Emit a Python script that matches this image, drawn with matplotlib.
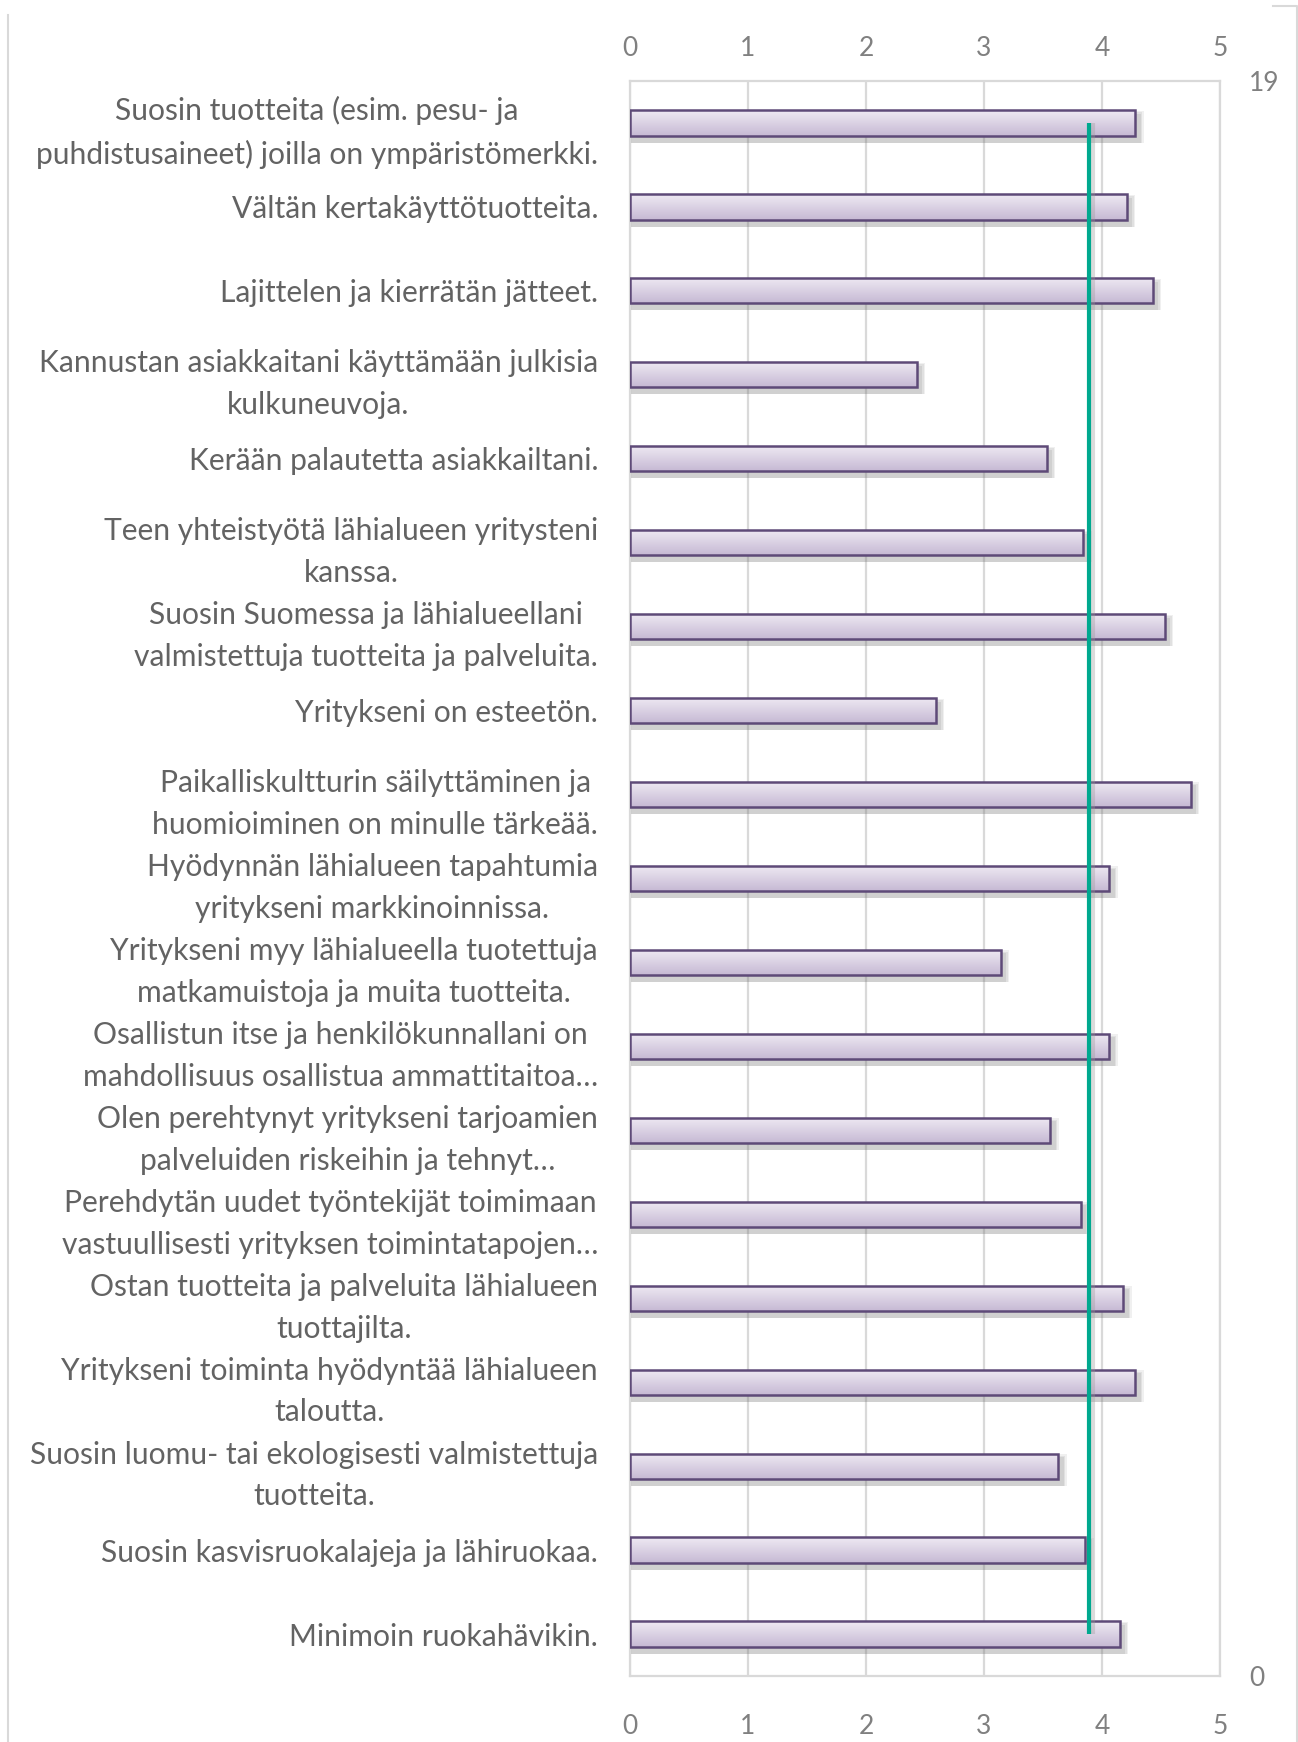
import numpy as np
import matplotlib
matplotlib.use("Agg")
import matplotlib.pyplot as plt
from matplotlib.patches import Rectangle
from matplotlib.lines import Line2D

# ---------- Data ----------
statements = [
    "Suosin tuotteita (esim. pesu- ja\npuhdistusaineet) joilla on ympäristömerkki.",
    "Vältän kertakäyttötuotteita.",
    "Lajittelen ja kierrätän jätteet.",
    "Kannustan asiakkaitani käyttämään julkisia\nkulkuneuvoja.",
    "Kerään palautetta asiakkailtani.",
    "Teen yhteistyötä lähialueen yritysteni\nkanssa.",
    "Suosin Suomessa ja lähialueellani\nvalmistettuja tuotteita ja palveluita.",
    "Yritykseni on esteetön.",
    "Paikalliskultturin säilyttäminen ja\nhuomioiminen on minulle tärkeää.",
    "Hyödynnän lähialueen tapahtumia\nyritykseni markkinoinnissa.",
    "Yritykseni myy lähialueella tuotettuja\nmatkamuistoja ja muita tuotteita.",
    "Osallistun itse ja henkilökunnallani on\nmahdollisuus osallistua ammattitaitoa…",
    "Olen perehtynyt yritykseni tarjoamien\npalveluiden riskeihin ja tehnyt…",
    "Perehdytän uudet työntekijät toimimaan\nvastuullisesti yrityksen toimintatapojen…",
    "Ostan tuotteita ja palveluita lähialueen\ntuottajilta.",
    "Yritykseni toiminta hyödyntää lähialueen\ntaloutta.",
    "Suosin luomu- tai ekologisesti valmistettuja\ntuotteita.",
    "Suosin kasvisruokalajeja ja lähiruokaa.",
    "Minimoin ruokahävikin.",
]
mean_scores = [4.28, 4.21, 4.43, 2.43, 3.53, 3.84, 4.53, 2.59, 4.75, 4.06,
               3.14, 4.06, 3.56, 3.82, 4.18, 4.28, 3.63, 3.86, 4.15]

# overall average drawn as a vertical line on the secondary axis
avg_x = [3.89, 3.89]
avg_y = [0.5, 18.5]

x_ticks = [0, 1, 2, 3, 4, 5]
sec_ticks = [0, 19]

# ---------- Style ----------
plt.rcParams["font.family"] = ["Lato", "DejaVu Sans"]
TEXT_GREY = "#636363"
TICK_GREY = "#808080"
GRID_GREY = "#d9d9d9"
BAR_EDGE = "#5e4a78"
BAR_TOP = np.array([0xef, 0xea, 0xf3]) / 255
BAR_BOT = np.array([0xc6, 0xb9, 0xd4]) / 255
AVG_GREEN = "#00a98f"

W, H = 1298, 1742
fig = plt.figure(figsize=(W / 100, H / 100), dpi=100)
ax = fig.add_axes([630 / W, 1 - 1676 / H, 590 / W, 1595 / H])

n = len(statements)
ypos = np.arange(n)
bar_h = 0.30

# gradient for bar fill (light at top, darker at bottom)
grad = np.linspace(0, 1, 64)[:, None, None]
grad_img = BAR_TOP[None, None, :] * (1 - grad) + BAR_BOT[None, None, :] * grad

px_x = 5 / 590
px_y = n / 1595
for y, v in zip(ypos, mean_scores):
    # soft drop shadow
    for k, a in enumerate([0.10, 0.12, 0.14]):
        grow = (3 - k) * 1.5
        ax.add_patch(Rectangle((0, y - bar_h / 2 + (5 - grow) * px_y),
                               v + (4 + grow) * px_x, bar_h + (2 + grow) * px_y,
                               facecolor="#707070", edgecolor="none", alpha=a, zorder=2))
    rect = Rectangle((0, y - bar_h / 2), v, bar_h, facecolor="none",
                     edgecolor=BAR_EDGE, linewidth=1.8, zorder=4)
    ax.add_patch(rect)
    im = ax.imshow(grad_img, extent=(0, v, y + bar_h / 2, y - bar_h / 2),
                   aspect="auto", origin="upper", zorder=3, interpolation="bilinear")
    im.set_clip_path(rect)

ax.set_xlim(0, 5)
ax.set_ylim(n - 0.5, -0.5)

ax.set_xticks(x_ticks)
ax.set_xticklabels([str(t) for t in x_ticks])
ax.xaxis.grid(True, color=GRID_GREY, linewidth=1.6, zorder=0)
ax.set_axisbelow(True)
for s in ax.spines.values():
    s.set_color(GRID_GREY)
    s.set_linewidth(1.6)

ax.set_yticks(ypos)
ax.set_yticklabels(statements)
for t in ax.get_yticklabels():
    t.set_multialignment("center")
    t.set_linespacing(1.6)
ax.tick_params(axis="y", length=0, pad=23, labelsize=21.6, labelcolor=TEXT_GREY)
ax.tick_params(axis="x", length=0, labelsize=19, labelcolor=TICK_GREY, pad=27)

# top tick labels: drawn with a smaller gap above the plot
for xt in x_ticks:
    ax.annotate(str(xt), xy=(xt, 1.0), xycoords=("data", "axes fraction"),
                xytext=(0, 33), textcoords="offset pixels", ha="center", va="center",
                fontsize=19, color=TICK_GREY)

# secondary axis for the average line
ax2 = ax.twinx()
ax2.set_ylim(0, 19)
ax2.set_yticks(sec_ticks)
ax2.tick_params(axis="y", length=0, pad=21, labelsize=19, labelcolor=TICK_GREY)
for s in ax2.spines.values():
    s.set_visible(False)
ax2.plot([a + 4 * px_x for a in avg_x], avg_y, color="#9a9a9a", linewidth=3, alpha=0.35,
         solid_capstyle="butt")
ax2.plot(avg_x, avg_y, color=AVG_GREEN, linewidth=3, solid_capstyle="butt")

# chart area outline (partly visible)
fig.add_artist(Line2D([8 / W, 8 / W], [0, 1 - 15 / H], transform=fig.transFigure,
                      color=GRID_GREY, linewidth=1.5))
fig.add_artist(Line2D([1273 / W, 1297 / W, 1297 / W], [1 - 6 / H, 1 - 6 / H, 0],
                      transform=fig.transFigure, color=GRID_GREY, linewidth=1.5))

fig.savefig("out.png", dpi=100, facecolor="white")
